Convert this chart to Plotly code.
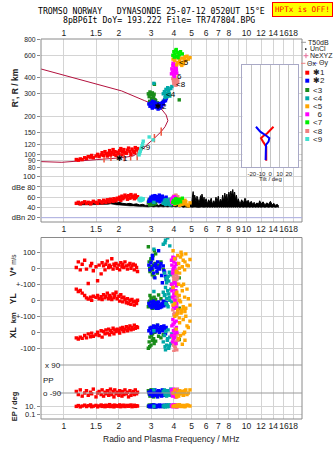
import math
import plotly.graph_objects as go

# ---------------- data ----------------
freq_ticks = [1, 1.5, 2, 3, 4, 5, 6, 7, 8, 9, 10, 12, 14, 16, 18]
freq_labels_edge = ["1", "1.5", "2", "3", "4", "5", "6", "7", "8", "", "10", "12", "14", "16", "18"]
freq_labels_mid = ["1", "1.5", "2", "3", "4", "5", "6", "7", "8", "9", "10", "12", "14", "16", "18"]
height_ticks = [80, 90, 100, 120, 150, 200, 300, 400, 600, 800]
dbe_ticks = [20, 40, 60, 80, 100]
dbe_labels = ["dBn 20", "40", "60", "dBe 80", "100"]
vel_ticks = [-100, 0, 100, 200, 300, 400, 500]
vel_labels = ["-100", "0", "+-100", "0", "+-100", "0", "100"]
tilt_ticks = [-20, -10, 0, 10, 20]

# true-height profile (MHz, km)
profile_f = [0.75, 2.07, 2.77, 3.34, 3.63, 3.71, 3.58, 3.41, 3.13, 2.83, 2.63, 2.39, 2.07, 1.30, 0.975, 0.75]
profile_h = [469, 316, 265, 238, 205, 185, 166, 152, 135, 119, 106, 98, 95, 91, 87.5, 88.6]

# NeXYZ points
ne_f = [1.66, 1.81, 2.14, 2.32, 2.52, 3.13, 3.41]
ne_h = [94, 96.5, 96, 97.5, 98, 135, 152]

# tilts vs height
tiltx_deg = [-4.3, -4.3, -7.8, -10, -7.8, -3.5, 3.5]
tiltx_h = [90, 116, 127, 135, 140, 147, 166]
tilty_deg = [-5, -4.6, -1.8, -1, -3.5, -10.8, -15.4]
tilty_h = [91, 120, 127, 135, 140, 152, 166]

# receiver noise (dBn) band: freq, upper, lower
noise_f = [1.2, 1.25, 1.3, 1.35, 1.4, 1.45, 1.5, 1.55, 1.6, 1.65, 1.7, 1.75, 1.8, 1.85, 1.9, 1.95, 2.0, 2.1, 2.2, 2.3,
           2.4, 2.5, 2.6, 2.7, 2.8, 2.9, 3.0, 3.1, 3.2, 3.3, 3.4, 3.5, 3.6, 3.7, 3.8, 3.9, 4.0, 4.1, 4.2, 4.3,
           4.4, 4.5, 4.6, 4.7, 4.8, 4.9, 5.0, 5.05, 5.1, 5.15, 5.2, 5.3, 5.35, 5.4, 5.5, 5.6, 5.65, 5.7, 5.8, 5.85,
           5.9, 6.0, 6.1, 6.2, 6.3, 6.4, 6.5, 6.6, 6.7, 6.8, 6.9, 7.0, 7.1, 7.2, 7.3, 7.4, 7.5, 7.6, 7.7, 7.8,
           7.9, 8.0, 8.1, 8.2, 8.3, 8.4, 8.5, 8.6, 8.7, 8.8, 8.9, 9.0, 9.2, 9.4, 9.6, 9.8, 10.0, 10.2, 10.4, 10.6,
           10.8, 11.0, 11.2, 11.4, 11.6, 11.8, 12.0, 12.3, 12.6, 12.9, 13.2, 13.5, 13.8, 14.1, 14.4, 14.7, 15.0]
noise_hi = [49, 48, 50, 48, 49, 50, 48, 49, 50, 48, 51, 50, 52, 50, 51, 49, 50, 48, 47, 48,
            46, 47, 45, 46, 44, 45, 47, 45, 46, 44, 46, 45, 47, 44, 46, 45, 47, 44, 46, 45,
            47, 44, 46, 45, 43, 46, 44, 60, 71, 55, 64, 50, 62, 58, 48, 63, 54, 66, 52, 60,
            49, 57, 47, 55, 50, 58, 46, 53, 49, 60, 51, 62, 48, 56, 50, 64, 52, 68, 55, 66,
            50, 70, 58, 72, 62, 75, 60, 70, 55, 64, 50, 57, 46, 55, 48, 58, 50, 54, 47, 52,
            46, 50, 45, 49, 46, 53, 47, 51, 45, 49, 46, 52, 45, 48, 44, 46, 43]
noise_lo = [45, 45, 46, 45, 45, 46, 45, 46, 46, 45, 46, 46, 47, 46, 46, 45, 45, 44, 44, 43,
            43, 42, 42, 42, 41, 41, 42, 41, 42, 41, 42, 41, 42, 41, 42, 41, 42, 41, 42, 41,
            42, 40, 41, 40, 40, 41, 40, 40, 41, 40, 41, 40, 41, 40, 40, 41, 40, 41, 40, 41,
            40, 41, 40, 41, 40, 41, 40, 41, 40, 41, 40, 41, 40, 41, 40, 41, 40, 41, 40, 41,
            40, 41, 40, 41, 40, 41, 40, 41, 40, 41, 40, 41, 40, 41, 40, 41, 40, 41, 40, 41,
            40, 41, 40, 41, 40, 41, 40, 41, 40, 41, 40, 41, 40, 41, 40, 41, 40]

# echo clusters: freq (MHz), virtual height (km), amplitude (dB), V* (m/s), YL/XL (km), PP, EP (deg)
c1_f = [1.17, 1.2, 1.23, 1.26, 1.3, 1.33, 1.36, 1.4, 1.42, 1.45, 1.5, 1.53, 1.56, 1.6, 1.62, 1.65, 1.68, 1.7, 1.73, 1.76,
        1.78, 1.8, 1.83, 1.86, 1.88, 1.9, 1.93, 1.96, 2.0, 2.02, 2.05, 2.08, 2.1, 2.13, 2.16, 2.2, 2.23, 2.26, 2.3, 2.33,
        2.36, 2.4, 2.43, 2.46, 2.5, 2.53]
c1_h = [92, 91, 93, 92, 95, 94, 97, 96, 99, 95, 98, 101, 97, 100, 104, 99, 106, 102, 98, 103,
        108, 100, 104, 110, 101, 106, 99, 105, 102, 108, 112, 100, 106, 110, 104, 103, 109, 113, 106, 101,
        111, 107, 104, 114, 109, 112]
c1_db = [48, 50, 47, 49, 51, 48, 50, 47, 49, 52, 50, 48, 53, 51, 49, 54, 52, 50, 55, 53,
         51, 56, 54, 52, 57, 55, 53, 58, 56, 60, 54, 62, 57, 59, 64, 61, 56, 63, 58, 65,
         60, 62, 57, 64, 59, 61]
c1_vs = [5, 40, -10, 25, 50, -5, -95, 15, 30, -15, 10, -78, 20, -35, 35, 15, -10, 25, 45, 5,
         20, 10, 60, -5, 25, 15, 30, 0, 20, -10, 35, 10, 25, 5, 40, 15, -5, 20, 30, 0,
         15, 25, -10, 20, 5, -20]
c1_yl = [70, 55, 62, 45, 30, 15, 8, 20, 0, 25, 18, 30, 10, 22, 5, 35, 15, 25, 45, 10,
         30, 20, 5, 40, 15, 28, 50, 10, 25, -5, 35, 15, -10, 20, 5, -15, 10, -20, 0, -25,
         5, -10, -30, -5, -20, 0]
c1_xl = [-35, -42, -30, -38, -20, -35, -10, -28, -5, -25, -15, 0, -20, 10, -30, 5, -10, 15, -5, 20,
         -15, 10, 0, 25, -10, 15, 5, 20, 10, -5, 25, 15, 30, 5, 20, 35, 10, 25, 40, 15,
         30, 20, 45, 25, 35, 30]
c1_pp = [-80, -100, -70, -110, -90, -75, -105, -85, -95, -65, -115, -90, -80, -100, -70, -110, -85, -95, -75, -105,
         -90, -65, -100, -80, -115, -70, -95, -85, -105, -75, -90, -110, -80, -100, -70, -95, -85, -115, -75, -105,
         -90, -80, -100, -70, -95, -85]
c1_ep = [12, 20, 9, 15, 25, 11, 18, 30, 10, 14, 22, 9, 16, 28, 12, 19, 10, 24, 13, 17,
         35, 11, 15, 21, 9, 26, 14, 18, 12, 30, 10, 20, 15, 25, 11, 16, 22, 13, 19, 28,
         10, 14, 24, 12, 18, 15]

c2_f = [2.92, 2.96, 3.0, 3.03, 3.06, 3.1, 3.12, 3.15, 3.18, 3.2, 3.23, 3.26, 3.3, 3.33, 3.36, 3.4, 3.43, 3.46, 3.5, 3.53,
        3.56, 3.6, 3.63, 3.05, 3.28]
c2_h = [250, 240, 255, 238, 262, 245, 236, 258, 242, 250, 234, 246, 240, 252, 232, 244, 238, 256, 248, 262,
        270, 265, 275, 232, 228]
c2_db = [52, 56, 60, 54, 62, 50, 58, 63, 55, 59, 61, 53, 57, 64, 51, 60, 55, 62, 58, 54, 50, 56, 60, 53, 57]
c2_vs = [20, -10, 35, 0, 60, -30, 15, -60, 25, 5, -20, 40, 110, -5, 10, 30, -45, -90, 15, -15, -25, -50, -70, 80, 0]
c2_yl = [-20, -35, -10, -45, -25, -5, -30, -40, -15, -50, -20, -35, -10, -30, -45, -25, -40, -20, -5, -35,
         -10, -25, -15, -30, -50]
c2_xl = [10, 25, -5, 30, 15, 40, 20, 5, 35, 10, 25, 45, 15, 0, 30, 20, 35, 10, 25, 40, 15, -10, 30, 5, 20]
c2_pp = [-85, -100, -75, -95, -110, -80, -90, -70, -105, -95, -85, -115, -75, -100, -90, -80, -110, -70, -95, -85,
         -105, -90, -75, -100, -80]
c2_ep = [15, 10, 22, 12, 18, 30, 11, 25, 14, 9, 20, 16, 12, 28, 10, 19, 13, 24, 11, 17, 21, 14, 26, 10, 18]

c3_f = [2.9, 2.93, 2.96, 3.0, 3.02, 3.05, 3.08, 3.1, 3.12, 3.15, 2.95, 3.0, 3.06, 3.18, 3.25, 3.3, 3.13, 4.28, 3.4, 3.5]
c3_h = [300, 285, 310, 295, 275, 305, 290, 280, 298, 270, 262, 250, 258, 265, 255, 245, 356, 269, 250, 262]
c3_db = [50, 55, 47, 58, 52, 46, 60, 49, 54, 57, 45, 51, 56, 48, 53, 59, 47, 52, 55, 50]
c3_vs = [135, 40, -20, 60, 10, -40, 80, 20, -53, 30, 0, 50, -10, 90, -30, 20, 110, -60, 40, -5]
c3_yl = [-40, -10, 30, -30, 10, -50, 0, -20, 20, -45, -5, 15, -35, 5, -25, 33, -15, -50, 10, -30]
c3_xl = [-100, -60, -30, -80, -20, -50, 10, -40, -70, 0, -90, 30, -10, -55, 45, -25, 20, -45, -35, -15]
c3_pp = [-75, -95, -110, -85, -70, -100, -90, -115, -80, -105, -95, -70, -85, -100, -110, -80, -90, -75, -105, -95]
c3_ep = [12, 25, 10, 18, 14, 30, 11, 20, 16, 9, 22, 13, 27, 10, 15, 19, 12, 24, 17, 11]

c4_f = [3.5, 3.55, 3.6, 3.62, 3.65, 3.7, 3.72, 3.75, 3.8, 3.85, 3.9, 3.58, 3.68, 3.11, 3.78]
c4_h = [300, 312, 290, 325, 305, 335, 298, 318, 288, 330, 342, 280, 285, 362, 300]
c4_db = [48, 52, 46, 55, 50, 47, 53, 49, 56, 45, 51, 54, 48, 50, 46]
c4_vs = [150, -30, 175, -60, -90, 190, -50, -80, 140, -40, -100, 160, -70, 120, -25]
c4_yl = [50, 30, 80, -20, 10, 60, -40, 40, 0, 70, -10, 35, -30, 55, 20]
c4_xl = [-60, -20, -110, 5, -80, -40, 15, -100, -30, -70, -10, -90, -50, 10, -85]
c4_pp = [-80, -70, -100, -90, -110, -75, -95, -85, -105, -65, -90, -100, -80, -70, -95]
c4_ep = [14, 20, 11, 25, 16, 10, 18, 30, 12, 22, 15, 9, 19, 13, 24]

c5_f = [3.96, 4.05, 4.12, 4.2, 4.25, 4.3, 4.38, 4.45, 4.5, 4.58, 4.65, 4.72, 4.35, 4.15, 4.6, 4.28, 4.42, 4.52, 4.8, 4.9]
c5_h = [560, 545, 580, 525, 595, 540, 510, 570, 530, 555, 545, 590, 520, 505, 585, 565, 500, 515, 560, 575]
c5_db = [50, 46, 55, 48, 52, 44, 57, 49, 53, 47, 51, 45, 56, 48, 54, 50, 46, 52, 43, 49]
c5_vs = [110, 60, -20, 80, 30, -30, 100, 10, 50, -10, 90, 20, 70, -25, 40, 0, 85, -100, 15, 55]
c5_yl = [80, -20, 40, -80, 100, 0, -60, 60, -40, 20, -100, 70, -10, 50, -70, 30, 90, -50, 10, -30]
c5_xl = [170, 100, 20, 140, -40, 60, 120, -75, 80, 0, 150, 40, -20, 110, -50, 90, 130, -10, 30, 70]
c5_pp = [-90, -70, -100, -85, -110, -75, -95, -80, -105, -90, -70, -100, -85, -115, -75, -95, -80, -105, -90, -70]
c5_ep = [13, 20, 10, 25, 15, 30, 11, 18, 22, 12, 16, 28, 14, 19, 10, 24, 17, 12, 21, 15]

c6_f = [3.88, 3.9, 3.93, 3.95, 3.98, 4.0, 4.03, 4.05, 4.08, 4.1, 4.13, 4.15, 3.96, 4.02, 4.12]
c6_h = [430, 470, 445, 500, 425, 515, 455, 480, 440, 495, 460, 435, 520, 410, 475]
c6_db = [55, 50, 58, 52, 60, 49, 56, 53, 59, 51, 57, 54, 48, 61, 52]
c6_vs = [50, 20, -30, 70, 0, 40, -90, 10, 60, -20, 30, -100, -10, 65, 25]
c6_yl = [100, 60, 20, 80, -40, 40, 110, 0, -50, 60, 90, -20, 70, 30, -45]
c6_xl = [-20, 40, -60, 80, 10, -40, 60, -10, 20, -70, 30, 0, 50, -30, 70]
c6_pp = [-70, -90, -110, -80, -100, -65, -95, -85, -115, -75, -90, -105, -80, -70, -100]
c6_ep = [18, 12, 25, 10, 15, 30, 14, 20, 11, 22, 16, 9, 26, 13, 19]

c7_f = [3.95, 4.0, 4.05, 4.1, 4.15, 4.2, 4.28, 4.35, 4.45, 4.02, 4.12, 4.22]
c7_h = [600, 640, 615, 655, 590, 630, 605, 640, 615, 580, 665, 575]
c7_db = [50, 54, 48, 57, 52, 49, 55, 51, 58, 53, 50, 56]

c8_f = [3.95, 3.98, 4.0, 4.03, 4.05, 4.08, 4.1, 4.12, 4.15, 4.18, 4.2, 4.05, 4.1, 4.0]
c8_h = [395, 380, 410, 365, 400, 372, 390, 355, 385, 368, 378, 420, 350, 360]
c8_db = [58, 55, 62, 53, 60, 57, 64, 54, 59, 56, 61, 52, 63, 57]
c8_vs = [-20, -50, -80, -30, -60, -90, -10, -40, -70, -25, -55, -85, -35, -65]
c8_yl = [-60, -30, 10, -80, -10, 30, -50, 0, -40, 20, -70, -20, 40, -90]
c8_xl = [-40, -80, -120, -20, -60, -100, -30, -70, -110, -10, -50, -90, -25, -65]
c8_pp = [-80, -95, -70, -110, -85, -100, -75, -90, -105, -65, -95, -85, -115, -75]
c8_ep = [15, 22, 11, 18, 28, 12, 20, 14, 25, 10, 17, 30, 13, 21]

c9_f = [2.58, 2.6, 2.62, 2.64, 2.66, 2.68, 2.7, 2.72, 2.93, 3.08]
c9_h = [100, 103, 107, 111, 114, 118, 122, 128, 138, 131]
c9_db = [55, 57, 53, 58, 54, 56, 55, 57, 53, 56]

legend_names = ["✱1", "✱2", "&lt;3", "&lt;4", "&lt;5", "  6", "&lt;7", "&lt;8", "&lt;9"]
cluster_colors = ["#ff0000", "#0000ff", "#1a8c1a", "#00a8a8", "#ffa500", "#ff00ff", "#00ee00", "#f08080", "#40e0d0"]

# (index, f, h, db, vs, yl, xl, pp, ep) - drawing order
clusters = [
    (0, c1_f, c1_h, c1_db, c1_vs, c1_yl, c1_xl, c1_pp, c1_ep),
    (8, c9_f, c9_h, c9_db, None, None, None, None, None),
    (2, c3_f, c3_h, c3_db, c3_vs, c3_yl, c3_xl, c3_pp, c3_ep),
    (1, c2_f, c2_h, c2_db, c2_vs, c2_yl, c2_xl, c2_pp, c2_ep),
    (3, c4_f, c4_h, c4_db, c4_vs, c4_yl, c4_xl, c4_pp, c4_ep),
    (7, c8_f, c8_h, c8_db, c8_vs, c8_yl, c8_xl, c8_pp, c8_ep),
    (5, c6_f, c6_h, c6_db, c6_vs, c6_yl, c6_xl, c6_pp, c6_ep),
    (4, c5_f, c5_h, c5_db, c5_vs, c5_yl, c5_xl, c5_pp, c5_ep),
    (6, c7_f, c7_h, c7_db, None, None, None, None, None),
]

# ---------------- geometry ----------------
W, H = 335, 451
ML, MR, MT, MB = 39, 33, 39, 32
PW = W - ML - MR
PH = H - MT - MB


def px(x):
    return (x - ML) / PW


def py(y):
    return (H - MB - y) / PH


GRID = "#d4d4d4"
FRAME = "#8a8a8a"
FONT = "Liberation Sans, Arial, sans-serif"
MONO = "DejaVu Sans Mono, monospace"
TXT = "#222222"

# composite axis offsets for middle and bottom panels
VS_OFF, YL_OFF, XL_OFF = 400, 200, 0


def pp_axis(v):
    return 40 + v * 14 / 90


def ep_axis(v):
    return 4.7 + (math.log10(v) + 1) * 3.8


fig = go.Figure()

fig.add_trace(go.Scatter(x=profile_f, y=profile_h, xaxis="x3", yaxis="y3", mode="lines",
                         line=dict(color="#b3123e", width=1), hoverinfo="skip"))
fig.add_trace(go.Scatter(x=ne_f, y=ne_h, xaxis="x3", yaxis="y3", mode="markers",
                         marker=dict(symbol="line-ns-open", size=6, line=dict(color="#e46d9a", width=1.5)),
                         hoverinfo="skip"))

fig.add_trace(go.Scatter(x=noise_f, y=noise_lo, xaxis="x2", yaxis="y2", mode="lines",
                         line=dict(color="black", width=0.6), hoverinfo="skip"))
fig.add_trace(go.Scatter(x=noise_f, y=noise_hi, xaxis="x2", yaxis="y2", mode="lines", fill="tonexty",
                         fillcolor="black", line=dict(color="black", width=1), hoverinfo="skip"))

for idx, f, h, db, vs, yl, xl, pp, ep in clusters:
    col = cluster_colors[idx]
    mk = dict(symbol="square", size=3.4, color=col, line=dict(width=0))
    fig.add_trace(go.Scatter(x=f, y=h, xaxis="x3", yaxis="y3", mode="markers", marker=mk, hoverinfo="skip"))
    fig.add_trace(go.Scatter(x=f, y=db, xaxis="x2", yaxis="y2", mode="markers", marker=mk, hoverinfo="skip"))
    if vs is not None:
        fig.add_trace(go.Scatter(x=f, y=[v + VS_OFF for v in vs], xaxis="x4", yaxis="y4", mode="markers",
                                 marker=mk, hoverinfo="skip"))
        fig.add_trace(go.Scatter(x=f, y=[v + YL_OFF for v in yl], xaxis="x4", yaxis="y4", mode="markers",
                                 marker=mk, hoverinfo="skip"))
        fig.add_trace(go.Scatter(x=f, y=[v + XL_OFF for v in xl], xaxis="x4", yaxis="y4", mode="markers",
                                 marker=mk, hoverinfo="skip"))
        fig.add_trace(go.Scatter(x=f, y=[pp_axis(v) for v in pp], xaxis="x", yaxis="y", mode="markers",
                                 marker=mk, hoverinfo="skip"))
        fig.add_trace(go.Scatter(x=f, y=[ep_axis(v) for v in ep], xaxis="x", yaxis="y", mode="markers",
                                 marker=mk, hoverinfo="skip"))

# tilt inset
fig.add_trace(go.Scatter(x=tiltx_deg, y=tiltx_h, xaxis="x5", yaxis="y5", mode="lines",
                         line=dict(color="#ff0000", width=2), hoverinfo="skip"))
fig.add_trace(go.Scatter(x=tilty_deg, y=tilty_h, xaxis="x5", yaxis="y5", mode="lines",
                         line=dict(color="#0000ff", width=2), hoverinfo="skip"))

# ---------------- axes ----------------
xrange = [math.log10(0.75), math.log10(20.1)]
tickfont = dict(family=FONT, size=8.5, color=TXT)


def xax(anchor, labels, **kw):
    d = dict(type="log", range=xrange, tickmode="array", tickvals=freq_ticks, ticktext=labels,
             showgrid=True, gridcolor=GRID, gridwidth=1, zeroline=False, showline=False, ticks="",
             tickfont=tickfont, tickangle=0, anchor=anchor, domain=[0, 1], fixedrange=True)
    d.update(kw)
    return d


top_dom = [py(173), 1.0]
dbe_dom = [py(222), py(173)]
mid_dom = [py(352), py(237.5)]
bot_dom = [0.0, py(352)]

ycommon = dict(showgrid=True, gridcolor=GRID, gridwidth=1, zeroline=False, showline=False,
               ticks="outside", ticklen=3, tickcolor=FRAME, tickfont=dict(family=FONT, size=7.5, color=TXT),
               tickangle=0, tickmode="array", fixedrange=True)

mid_range_top = (332.3 - 237.5) / 0.16
mid_range_bot = (332.3 - 352) / 0.16

layout = dict(
    width=W, height=H, autosize=False,
    margin=dict(l=ML, r=MR, t=MT, b=MB, pad=0),
    paper_bgcolor="white", plot_bgcolor="white", showlegend=False,
    xaxis=xax("y", freq_labels_edge),
    xaxis2=xax("y2", freq_labels_mid),
    xaxis3=xax("y3", freq_labels_edge, side="top"),
    xaxis4=xax("y4", freq_labels_mid, showticklabels=False),
    yaxis3=dict(ycommon, type="log", domain=top_dom, anchor="x3",
                range=[math.log10(72.2), math.log10(804)],
                tickvals=height_ticks, ticktext=[str(v) for v in height_ticks],
                tickfont=dict(family=FONT, size=6.8, color=TXT)),
    yaxis2=dict(ycommon, domain=dbe_dom, anchor="x2", range=[11.6, 107.2],
                tickvals=dbe_ticks, ticktext=dbe_labels),
    yaxis4=dict(ycommon, domain=mid_dom, anchor="x4", range=[mid_range_bot, mid_range_top],
                tickvals=vel_ticks, ticktext=vel_labels),
    yaxis=dict(ycommon, domain=bot_dom, anchor="x", range=[0, 67],
               tickvals=[ep_axis(10), ep_axis(0.1)], ticktext=["10.", "0.1"]),
    xaxis5=dict(domain=[px(242), px(298)], anchor="y5", range=[-30, 30], tickmode="array",
                tickvals=tilt_ticks, ticktext=[str(v) for v in tilt_ticks], showgrid=True,
                gridcolor="#c4c4c4", zeroline=False, showline=True, mirror=True, linecolor="#a9a9c6",
                ticks="", tickangle=0, tickfont=dict(family=FONT, size=6, color=TXT), fixedrange=True),
    yaxis5=dict(domain=[py(167.3), py(65)], anchor="x5", type="log",
                range=[math.log10(80), math.log10(504)], showgrid=False, showticklabels=False,
                zeroline=False, showline=True, mirror=True, linecolor="#a9a9c6", ticks="", fixedrange=True),
)
fig.update_layout(**layout)

# ---------------- shapes ----------------
shapes = []
# frames
shapes.append(dict(type="rect", xref="paper", yref="paper", x0=px(39), x1=px(302), y0=py(222), y1=py(39),
                   line=dict(color=FRAME, width=1)))
shapes.append(dict(type="rect", xref="paper", yref="paper", x0=px(39), x1=px(302), y0=py(419), y1=py(237.5),
                   line=dict(color=FRAME, width=1)))
# dBn 20 reference line
shapes.append(dict(type="line", xref="paper", yref="y2", x0=0, x1=1, y0=20, y1=20,
                   line=dict(color="#aeb0e6", width=1)))
# PP reference lines
for val in (90, -90):
    shapes.append(dict(type="line", xref="paper", yref="y", x0=px(57), x1=1, y0=pp_axis(val), y1=pp_axis(val),
                       line=dict(color="#9a9a9a", width=1)))

# legend glyphs
shapes.append(dict(type="line", xref="paper", yref="paper", x0=px(301), x1=px(306), y0=py(42.3), y1=py(42.3),
                   line=dict(color="#9a9a9a", width=1)))
shapes.append(dict(type="rect", xref="paper", yref="paper", x0=px(305), x1=px(306.5), y0=py(49.8), y1=py(48.3),
                   fillcolor="black", line=dict(width=0)))
shapes.append(dict(type="line", xref="paper", yref="paper", x0=px(303.5), x1=px(308.5), y0=py(55.7), y1=py(55.7),
                   line=dict(color="#e46d9a", width=1)))
shapes.append(dict(type="line", xref="paper", yref="paper", x0=px(306), x1=px(306), y0=py(58.2), y1=py(53.2),
                   line=dict(color="#e46d9a", width=1)))
shapes.append(dict(type="line", xref="paper", yref="paper", x0=px(301), x1=px(305.5), y0=py(63.3), y1=py(63.3),
                   line=dict(color="#f08080", width=1)))
shapes.append(dict(type="line", xref="paper", yref="paper", x0=px(313), x1=px(317.5), y0=py(63.3), y1=py(63.3),
                   line=dict(color="#8080ff", width=1)))
legend_rows = [72.7, 80.7, 90, 98.3, 106.3, 114.3, 122.3, 131, 139]
for i, yy in enumerate(legend_rows):
    shapes.append(dict(type="rect", xref="paper", yref="paper", x0=px(305.3), x1=px(309.3),
                       y0=py(yy + 2), y1=py(yy - 2), fillcolor=cluster_colors[i], line=dict(width=0)))

# ---------------- annotations ----------------
ann = []


def note(text, x, y, size=8.5, family=FONT, color=TXT, xanchor="center", angle=0, **kw):
    d = dict(text=text, xref="paper", yref="paper", x=px(x), y=py(y), showarrow=False,
             font=dict(family=family, size=size, color=color), xanchor=xanchor, yanchor="middle",
             textangle=angle, borderpad=0)
    d.update(kw)
    ann.append(d)


note("TROMSO NORWAY   DYNASONDE 25-07-12 0520UT 15°E", 35, 11, size=8.2, family=MONO, color="black",
     xanchor="left")
note("8pBP6It DoY= 193.222 File= TR747804.BPG", 60, 20.5, size=8.2, family=MONO, color="black",
     xanchor="left")
note("HPTx is OFF!", 302.8, 9.5, size=7.6, family=MONO, color="#ff0000", bgcolor="#ffff00",
     bordercolor="#ff0000", borderwidth=1, borderpad=2)

note("<b>R', R / km</b>", 13, 88, size=8.5, angle=-90)
note("<b>V*</b> <span style='font-size:6.5px'>m/s</span>", 11, 265, size=8.5, angle=-90)
note("<b>YL</b>", 11, 299, size=8.5, angle=-90)
note("<b>km</b>", 11, 318, size=7.5, angle=-90)
note("<b>XL</b>", 11, 333, size=8.5, angle=-90)
note("<b>EP / deg</b>", 12, 406, size=7.5, angle=-90)
note("PP", 46.5, 380, size=8)
note("x 90", 51.5, 365, size=8)
note("o -90", 51, 393.5, size=8)
note("Radio and Plasma Frequency / MHz", 170, 439, size=8.5)
note("Tilt / deg", 270, 178.5, size=6)

# legend text
note("T50dB", 307, 42.3, size=7, xanchor="left")
note("UnCl", 309, 49, size=7, xanchor="left")
note("NeXYZ", 309, 55.7, size=7, xanchor="left")
note("Θx", 306, 63.3, size=7, xanchor="left")
note("Θy", 318, 63.3, size=7, xanchor="left")
for i, yy in enumerate(legend_rows):
    note(legend_names[i], 312, yy, size=8, xanchor="left")

# cluster labels on the ionogram
label_pos = [("✱1", 2.08, 93), ("&lt;9", 2.82, 115), ("✱2", 3.42, 240), ("&lt;4", 3.86, 296),
             ("6", 4.32, 412), ("&lt;8", 4.38, 356), ("&lt;5", 4.52, 524)]
for t, f, hh in label_pos:
    ann.append(dict(text=t, xref="x3", yref="y3", x=math.log10(f), y=math.log10(hh), showarrow=False,
                    font=dict(family=FONT, size=8, color="black"), xanchor="center", yanchor="middle"))

fig.update_layout(shapes=shapes, annotations=ann)
fig.write_html("out.html", include_plotlyjs=True, config={"displayModeBar": False, "staticPlot": True})
